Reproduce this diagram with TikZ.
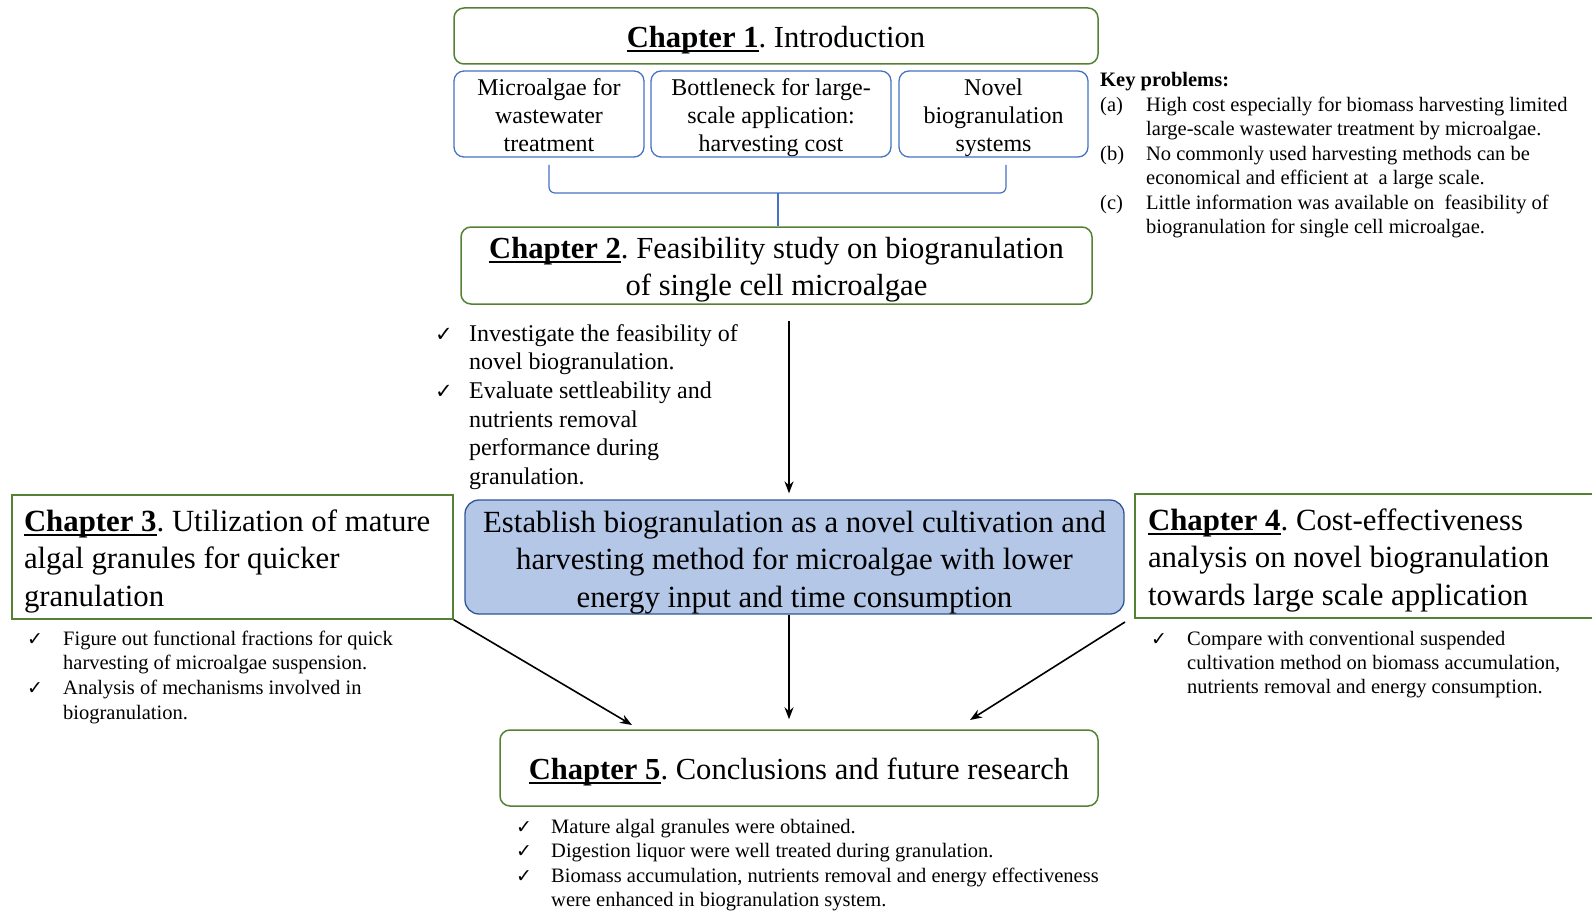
\documentclass[tikz,border=0pt]{standalone}
\usepackage{fontspec}
\setmainfont{Liberation Serif}
\newfontfamily\symfont{DejaVu Sans}
\usetikzlibrary{arrows.meta,calc}
\definecolor{chgreen}{HTML}{548235}
\definecolor{boxblue}{HTML}{4472C4}
\definecolor{mainfill}{HTML}{B4C7E7}
\definecolor{mainline}{HTML}{2F5597}
\frenchspacing
\newsavebox\chapbox
\newcommand\chap[1]{\sbox\chapbox{\textbf{Chapter #1}}\smash{\rlap{\rule[-4.5pt]{\wd\chapbox}{1.6pt}}}\usebox\chapbox}
\newcommand\ck[1][19]{{\symfont\fontsize{#1}{#1}\selectfont ✓}}
\newcommand\ctext[2][4pt]{\raisebox{-#1}[\height][\depth]{\begin{tabular}{@{}c@{}}#2\end{tabular}}}
\newcommand\ltext[3][5pt]{\raisebox{-#1}[\height][\depth]{\begin{tabular}{@{}p{#2}@{}}#3\end{tabular}}}
\tikzset{
  chbox/.style={draw=chgreen, line width=1.5pt, rounded corners=10pt, inner sep=0pt, font=\fontsize{30.6}{36.5}\selectfont},
  sqbox/.style={draw=chgreen, line width=1.5pt, inner sep=0pt, font=\fontsize{30.8}{37.5}\selectfont},
  subbox/.style={draw=boxblue, line width=1.3pt, rounded corners=10pt, inner sep=0pt, font=\fontsize{24}{28}\selectfont},
  mainbox/.style={draw=mainline, fill=mainfill, line width=1.3pt, rounded corners=14pt, inner sep=0pt, font=\fontsize{30.8}{37.5}\selectfont},
  note/.style={anchor=base west, inner sep=0pt},
  brace/.style={draw=boxblue, line width=1.2pt, rounded corners=6pt},
  arr/.style={line width=1.6pt, -{Stealth[length=12pt,width=9pt]}}
}
\begin{document}
\begin{tikzpicture}[x=1pt,y=-1pt]
\useasboundingbox (0,0) rectangle (1592,912);
\clip (0,0) rectangle (1592,912);

\node[chbox, minimum width=644, minimum height=56] (ch1) at (776,36) {\ctext{\chap{1}. Introduction}};
\node[subbox, minimum width=190, minimum height=86] (sub1) at (549,114) {\ctext[4pt]{Microalgae for\\wastewater\\treatment}};
\node[subbox, minimum width=240, minimum height=86] (sub2) at (771,114) {\ctext[4pt]{Bottleneck for large-\\scale application:\\harvesting cost}};
\node[subbox, minimum width=189, minimum height=86] (sub3) at (993.5,114) {\ctext[4pt]{Novel\\biogranulation\\systems}};

\node[chbox, minimum width=631, minimum height=77] (ch2) at (776.5,265.5) {\ctext{\chap{2}. Feasibility study on biogranulation\\of single cell microalgae}};

\node[note, font=\fontsize{20.5}{24.5}\selectfont] (keys) at (1100,87) {\begin{tabular}[t]{@{}p{46pt}@{}l@{}}
\multicolumn{2}{@{}l@{}}{\textbf{Key problems:}}\\
(a) & High cost especially for biomass harvesting limited\\
    & large-scale wastewater treatment by microalgae.\\
(b) & No commonly used harvesting methods can be\\
    & economical and efficient at \ a large scale.\\
(c) & Little information was available on \ feasibility of\\
    & biogranulation for single cell microalgae.
\end{tabular}};

\node[note, font=\fontsize{24}{28.7}\selectfont] (list2) at (435,341) {\begin{tabular}[t]{@{}p{34pt}@{}l@{}}
\ck[21] & Investigate the feasibility of\\
        & novel biogranulation.\\
\ck[21] & Evaluate settleability and\\
        & nutrients removal\\
        & performance during\\
        & granulation.
\end{tabular}};

\node[mainbox, minimum width=659, minimum height=114] (main) at (794.5,557) {\ctext[5pt]{Establish biogranulation as a novel cultivation and\\harvesting method for microalgae with lower\\energy input and time consumption}};
\node[sqbox, minimum width=441, minimum height=124] (ch3) at (232.5,557) {\ltext[4pt]{417pt}{\chap{3}. Utilization of mature\\algal granules for quicker\\granulation}};
\node[sqbox, minimum width=465, minimum height=124] (ch4) at (1367.5,556) {\ltext[4pt]{439pt}{\chap{4}. Cost-effectiveness\\analysis on novel biogranulation\\towards large scale application}};

\node[note, font=\fontsize{20.5}{24.7}\selectfont] (list3) at (27,645) {\begin{tabular}[t]{@{}p{36pt}@{}l@{}}
\ck & Figure out functional fractions for quick\\
    & harvesting of microalgae suspension.\\
\ck & Analysis of mechanisms involved in\\
    & biogranulation.
\end{tabular}};
\node[note, font=\fontsize{20.5}{24}\selectfont] (list4) at (1151,645) {\begin{tabular}[t]{@{}p{36pt}@{}l@{}}
\ck & Compare with conventional suspended\\
    & cultivation method on biomass accumulation,\\
    & nutrients removal and energy consumption.
\end{tabular}};

\node[chbox, minimum width=598, minimum height=76] (ch5) at (799,768) {\ctext{\chap{5}. Conclusions and future research}};
\node[note, font=\fontsize{20.5}{24.6}\selectfont] (list5) at (516,833) {\begin{tabular}[t]{@{}p{35pt}@{}l@{}}
\ck & Mature algal granules were obtained.\\
\ck & Digestion liquor were well treated during granulation.\\
\ck & Biomass accumulation, nutrients removal and energy effectiveness\\
    & were enhanced in biogranulation system.
\end{tabular}};

\coordinate (bl) at (549,165);
\coordinate (br) at (1006,165);
\coordinate (bm) at (778,193);
\draw[brace] (bl) |- (bm);
\draw[brace] (br) |- (bm);
\draw[brace] (bm) -- (ch2.north -| bm);

\coordinate (a2) at (789,321);
\coordinate (a3) at (632,725);
\coordinate (a4s) at (1125,622);
\coordinate (a4) at (970,720);
\draw[arr, shorten >=6pt] (a2) -- (main.north -| a2);
\draw[arr] (ch3.south east) -- (a3);
\draw[arr, shorten >=10pt] (main.south -| a2) -- (ch5.north -| a2);
\draw[arr] (a4s) -- (a4);
\end{tikzpicture}
\end{document}
